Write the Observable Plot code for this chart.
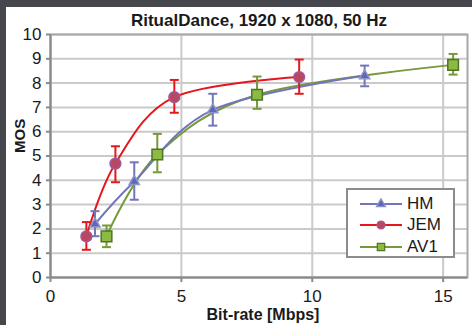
<!DOCTYPE html>
<html>
<head>
<meta charset="utf-8">
<script src="https://cdn.jsdelivr.net/npm/d3@7"></script>
<script src="https://cdn.jsdelivr.net/npm/@observablehq/plot@0.6"></script>
<style>
  html, body { margin: 0; padding: 0; background: #fff; }
  #wrap { position: relative; width: 472px; height: 325px; overflow: hidden; background: #fff; font-family: "Liberation Sans", Arial, sans-serif; }
  #bandTop { position: absolute; left: 0; top: 0; width: 472px; height: 7px; background: #46474c; }
  #bandLeft { position: absolute; left: 0; top: 0; width: 6px; height: 325px; background: #46474c; }
  #legend { position: absolute; left: 346px; top: 188px; width: 105px; height: 66px; border: 2px solid #8c8c8c; background: #fff; }
  #legend .row { position: absolute; left: 0; height: 20px; width: 105px; }
  #legend svg { position: absolute; left: 12px; top: 0; }
  #legend span { position: absolute; left: 59px; top: 0; font-size: 17px; line-height: 20px; color: #1a1a1a; }
</style>
</head>
<body>
<div id="wrap">
  <div id="chart"></div>
  <div id="bandTop"></div>
  <div id="bandLeft"></div>
  <div id="legend"></div>
</div>
<script>
// ---- data ----
const seriesNames = ["HM", "JEM", "AV1"];
const hmX  = [1.7, 3.2, 6.2, 12.0];
const hmY  = [2.2, 3.95, 6.9, 8.3];
const hmLo = [1.7, 3.2, 6.25, 7.87];
const hmHi = [2.73, 4.74, 7.56, 8.72];

const jemX  = [1.37, 2.48, 4.73, 9.5];
const jemY  = [1.69, 4.69, 7.42, 8.25];
const jemLo = [1.14, 3.92, 6.78, 7.56];
const jemHi = [2.28, 5.4, 8.13, 8.97];

const av1X  = [2.14, 4.08, 7.89, 15.38];
const av1Y  = [1.69, 5.06, 7.52, 8.75];
const av1Lo = [1.25, 4.33, 6.94, 8.35];
const av1Hi = [2.14, 5.91, 8.27, 9.2];

const xTicks = [0, 5, 10, 15];
const yTicks = [0, 1, 2, 3, 4, 5, 6, 7, 8, 9, 10];
const titleText = "RitualDance, 1920 x 1080, 50 Hz";
const xLabel = "Bit-rate [Mbps]";
const yLabel = "MOS";

// ---- styles ----
const lineColor = {HM: "#7276b8", JEM: "#e6171c", AV1: "#76993a"};
const markFill = {HM: "#5a6bb4", JEM: "#b8485f", AV1: "#8dba45"};
const markStroke = {HM: "#8e93cc", JEM: "#a0579c", AV1: "#4e7522"};
const markSymbol = {HM: "triangle", JEM: "circle", AV1: "square"};
const markR = {HM: 3.8, JEM: 5.4, AV1: 6};

function build(name, xs, ys, lo, hi) {
  return xs.map((x, i) => ({series: name, x, y: ys[i], lo: lo[i], hi: hi[i]}));
}
const data = [
  ...build("HM", hmX, hmY, hmLo, hmHi),
  ...build("JEM", jemX, jemY, jemLo, jemHi),
  ...build("AV1", av1X, av1Y, av1Lo, av1Hi)
];

const capSymbol = {
  draw(context, size) {
    const w = Math.sqrt(size / Math.PI);
    context.moveTo(-w, 0);
    context.lineTo(w, 0);
  }
};

const font = "Liberation Sans, Arial, sans-serif";
const marks = [
  Plot.gridX(xTicks, {stroke: "#cacaca", strokeOpacity: 1, strokeWidth: 2}),
  Plot.gridY(yTicks, {stroke: "#cacaca", strokeOpacity: 1, strokeWidth: 2}),
  Plot.frame({stroke: "#a8a8a8", strokeWidth: 2}),
  Plot.ruleX([0], {stroke: "#8a8a8a", strokeWidth: 2}),
  Plot.ruleY([0], {stroke: "#8a8a8a", strokeWidth: 2}),
  Plot.axisX(xTicks, {tickSize: 5, tickPadding: 7, fontSize: 17, label: null, stroke: "#8a8a8a", strokeWidth: 2, color: "#1a1a1a"}),
  Plot.axisY(yTicks, {tickSize: 4, tickPadding: 5, fontSize: 17, label: null, stroke: "#8a8a8a", strokeWidth: 2, color: "#1a1a1a"})
];

for (const s of ["AV1", "HM", "JEM"]) {
  const d = data.filter(p => p.series === s);
  marks.push(Plot.line(d, {x: "x", y: "y", curve: "cardinal", stroke: lineColor[s], strokeWidth: 2}));
}
for (const s of ["AV1", "HM", "JEM"]) {
  const d = data.filter(p => p.series === s);
  marks.push(Plot.ruleX(d, {x: "x", y1: "lo", y2: "hi", stroke: lineColor[s], strokeWidth: 2}));
  marks.push(Plot.dot(d, {x: "x", y: "lo", symbol: capSymbol, r: 4.5, stroke: lineColor[s], strokeWidth: 2, fill: "none"}));
  marks.push(Plot.dot(d, {x: "x", y: "hi", symbol: capSymbol, r: 4.5, stroke: lineColor[s], strokeWidth: 2, fill: "none"}));
  marks.push(Plot.dot(d, {x: "x", y: "y", symbol: markSymbol[s], r: markR[s], fill: markFill[s], stroke: markStroke[s], strokeWidth: 1.5}));
}

marks.push(Plot.text([titleText], {frameAnchor: "top", dy: -14, dx: 0, fontSize: 17, fontWeight: "bold", fill: "#1a1a1a", lineAnchor: "middle"}));
marks.push(Plot.text([xLabel], {frameAnchor: "bottom", dy: 37, dx: 4, fontSize: 16, fontWeight: "bold", fill: "#1a1a1a", lineAnchor: "middle"}));
marks.push(Plot.text([yLabel], {frameAnchor: "left", dx: -30, dy: -3, rotate: -90, fontSize: 15, fontWeight: "bold", fill: "#1a1a1a", lineAnchor: "middle"}));

const chart = Plot.plot({
  width: 472,
  height: 325,
  marginLeft: 50,
  marginRight: 5,
  marginTop: 34,
  marginBottom: 48,
  style: {fontFamily: font, background: "#fff", overflow: "visible"},
  x: {domain: [0, 15.93], axis: null},
  y: {domain: [0, 10], axis: null},
  marks
});
document.getElementById("chart").appendChild(chart);

// ---- legend ----
const legend = document.getElementById("legend");
const rowTops = [4, 25, 47];
seriesNames.forEach((s, i) => {
  const row = document.createElement("div");
  row.className = "row";
  row.style.top = rowTops[i] + "px";
  const svg = d3.create("svg").attr("width", 44).attr("height", 20);
  svg.append("line").attr("x1", 0).attr("x2", 42).attr("y1", 10).attr("y2", 10)
    .attr("stroke", lineColor[s]).attr("stroke-width", 2);
  const sym = {HM: d3.symbolTriangle, JEM: d3.symbolCircle, AV1: d3.symbolSquare}[s];
  const size = {HM: 36, JEM: 50, AV1: 55}[s];
  svg.append("path").attr("d", d3.symbol(sym, size)()).attr("transform", "translate(21,10)")
    .attr("fill", markFill[s]).attr("stroke", markStroke[s]).attr("stroke-width", 1.2);
  row.appendChild(svg.node());
  const label = document.createElement("span");
  label.textContent = s;
  row.appendChild(label);
  legend.appendChild(row);
});
</script>
</body>
</html>
